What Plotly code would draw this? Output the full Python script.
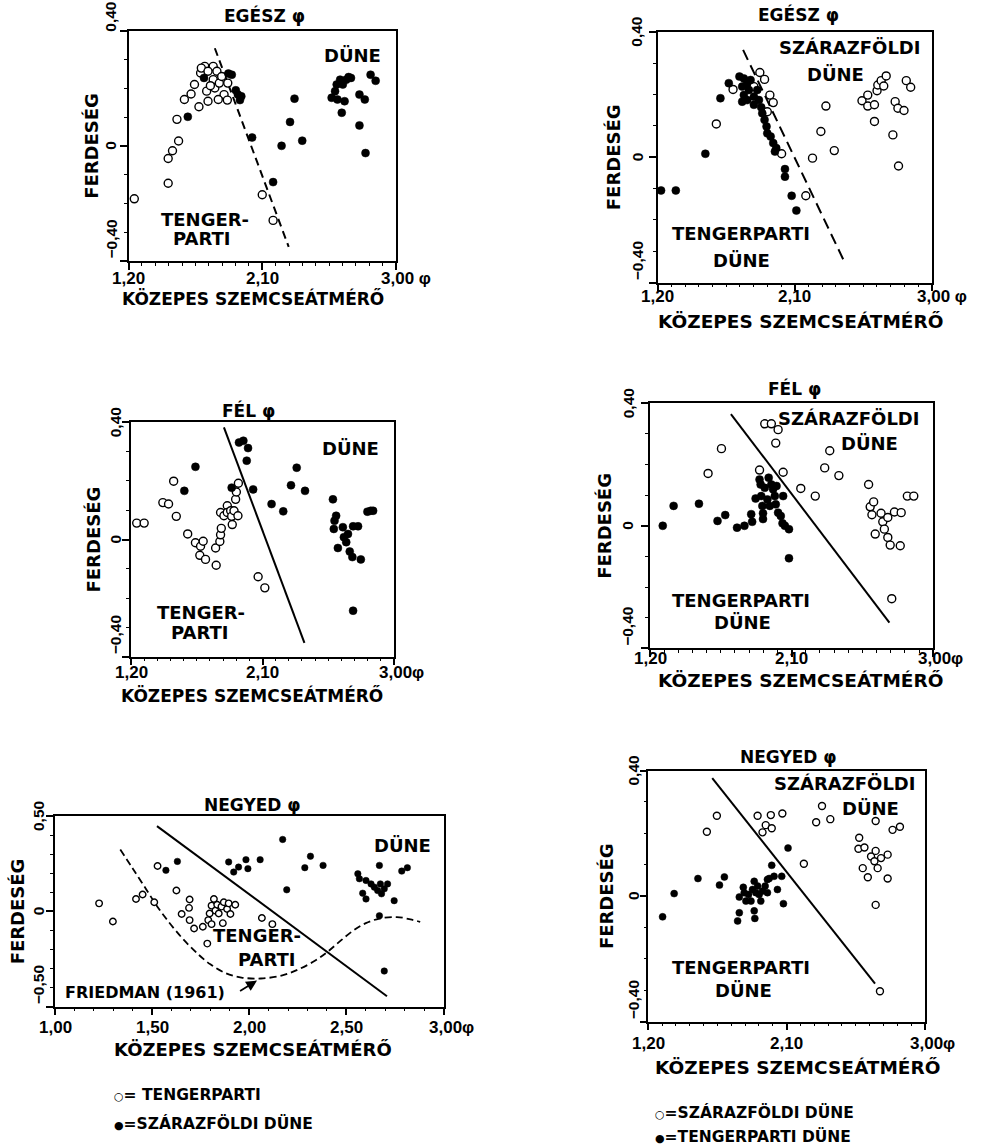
import plotly.graph_objects as go

W, H = 982, 1147
FONT = "DejaVu Sans"
NUMFONT = "Liberation Sans"

# ---------------- DATA ----------------
# Panel 1: EGÉSZ φ (open = tengerparti, filled = dűne)
p1_open_x = [1.239, 1.467, 1.467, 1.496, 1.537, 1.526, 1.576, 1.621, 1.644, 1.674, 1.685, 1.713, 1.726, 1.735,
             1.770, 1.770, 1.781, 1.795, 1.811, 1.827, 1.843, 1.804, 1.865, 1.868, 1.751, 1.690, 1.735, 2.100, 2.173]
p1_open_y = [-0.184, -0.130, -0.044, -0.017, 0.017, 0.092, 0.161, 0.180, 0.213, 0.136, 0.253, 0.276, 0.190, 0.155,
             0.276, 0.230, 0.201, 0.259, 0.218, 0.241, 0.178, 0.161, 0.159, 0.218, 0.209, 0.270, 0.259, -0.170, -0.259]
p1_fill_x = [1.599, 1.708, 1.872, 1.895, 1.922, 1.936, 1.959, 1.950, 2.032, 2.173, 2.230, 2.287, 2.317, 2.369,
             2.567, 2.590, 2.601, 2.624, 2.642, 2.665, 2.681, 2.697, 2.606, 2.654, 2.635, 2.754, 2.790, 2.754,
             2.795, 2.829, 2.863]
p1_fill_y = [0.101, 0.236, 0.251, 0.247, 0.193, 0.178, 0.172, 0.159, 0.029, -0.126, 0.000, 0.083, 0.164, 0.018,
             0.167, 0.190, 0.213, 0.230, 0.213, 0.230, 0.239, 0.236, 0.161, 0.155, 0.115, 0.178, 0.161, 0.071,
             -0.025, 0.247, 0.226]
p1_line_x = [1.781, 2.278]
p1_line_y = [0.339, -0.351]

# Panel 2: EGÉSZ φ (open = szárazföldi dűne, filled = tengerparti dűne)
p2_open_x = [1.585, 1.695, 1.832, 1.871, 1.902, 1.920, 1.937, 1.959, 2.014, 2.173, 2.217, 2.272, 2.305, 2.360,
             2.542, 2.580, 2.580, 2.624, 2.624, 2.641, 2.646, 2.668, 2.685, 2.701, 2.745, 2.760, 2.778, 2.782,
             2.818, 2.833, 2.862]
p2_open_y = [0.106, 0.216, 0.225, 0.270, 0.248, 0.145, 0.198, 0.174, 0.011, -0.123, -0.003, 0.082, 0.163, 0.021,
             0.180, 0.198, 0.163, 0.167, 0.114, 0.212, 0.230, 0.244, 0.227, 0.259, 0.071, 0.177, 0.156, -0.028,
             0.149, 0.244, 0.223]
p2_fill_x = [1.222, 1.319, 1.513, 1.612, 1.667, 1.737, 1.766, 1.788, 1.755, 1.810, 1.799, 1.766, 1.755, 1.788,
             1.832, 1.832, 1.854, 1.865, 1.880, 1.887, 1.902, 1.915, 1.920, 1.942, 1.959, 1.970, 1.979, 2.036,
             2.036, 2.080, 2.111]
p2_fill_y = [-0.106, -0.106, 0.011, 0.188, 0.236, 0.257, 0.251, 0.236, 0.225, 0.246, 0.214, 0.198, 0.177, 0.182,
             0.193, 0.167, 0.214, 0.182, 0.159, 0.140, 0.119, 0.098, 0.076, 0.066, 0.045, 0.018, 0.029, -0.038,
             -0.062, -0.123, -0.170]
p2_line_x = [1.761, 2.430]
p2_line_y = [0.342, -0.337]

# Panel 3: FÉL φ (open = tengerparti, filled = dűne)
p3_open_x = [1.239, 1.290, 1.418, 1.457, 1.492, 1.510, 1.588, 1.641, 1.671, 1.676, 1.694, 1.710, 1.779, 1.783,
             1.808, 1.813, 1.818, 1.813, 1.836, 1.859, 1.859, 1.882, 1.889, 1.893, 1.905, 1.916, 1.921, 1.932,
             1.935, 2.070, 2.116]
p3_open_y = [0.056, 0.056, 0.126, 0.121, 0.199, 0.079, 0.019, -0.011, -0.054, -0.023, -0.006, -0.068, -0.029,
             -0.088, -0.007, 0.016, 0.038, 0.092, 0.081, 0.115, 0.092, 0.098, 0.079, 0.051, 0.098, 0.137, 0.162,
             0.081, 0.192, -0.127, -0.165]
p3_fill_x = [1.641, 1.565, 1.889, 1.939, 1.969, 2.001, 1.992, 2.036, 2.162, 2.242, 2.295, 2.334, 2.391, 2.582,
             2.593, 2.604, 2.588, 2.616, 2.650, 2.657, 2.673, 2.685, 2.697, 2.720, 2.715, 2.754, 2.773, 2.720,
             2.818, 2.841, 2.857]
p3_fill_y = [0.248, 0.166, 0.177, 0.331, 0.337, 0.312, 0.269, 0.171, 0.121, 0.096, 0.185, 0.245, 0.166, 0.137,
             0.064, 0.081, 0.036, -0.029, 0.042, 0.008, -0.009, 0.019, -0.041, 0.045, -0.060, 0.045, -0.068,
             -0.243, 0.095, 0.098, 0.098]
p3_line_x = [1.836, 2.387]
p3_line_y = [0.383, -0.353]

# Panel 4: FÉL φ (open = szárazföldi dűne, filled = tengerparti dűne)
p4_open_x = [1.569, 1.654, 1.896, 1.929, 1.971, 2.014, 1.999, 2.046, 2.158, 2.250, 2.310, 2.342, 2.400, 2.589,
             2.599, 2.621, 2.610, 2.631, 2.668, 2.679, 2.689, 2.711, 2.711, 2.726, 2.753, 2.796, 2.790, 2.835,
             2.876, 2.736]
p4_open_y = [0.171, 0.252, 0.182, 0.333, 0.333, 0.314, 0.270, 0.175, 0.122, 0.097, 0.189, 0.245, 0.164, 0.135,
             0.062, 0.078, 0.036, -0.027, 0.041, 0.013, -0.011, 0.027, -0.038, -0.063, 0.045, 0.043, -0.065,
             0.097, 0.097, -0.238]
p4_fill_x = [1.281, 1.350, 1.511, 1.629, 1.678, 1.753, 1.800, 1.843, 1.849, 1.871, 1.896, 1.903, 1.907, 1.914,
             1.918, 1.918, 1.929, 1.946, 1.954, 1.961, 1.971, 1.982, 1.993, 1.999, 2.004, 2.014, 2.031, 2.046,
             2.042, 2.057, 2.083, 2.083]
p4_fill_y = [0.000, 0.065, 0.072, 0.016, 0.035, -0.006, 0.000, 0.038, 0.013, 0.089, 0.151, 0.135, 0.097, 0.065,
             0.041, 0.022, 0.124, 0.086, 0.157, 0.065, 0.135, 0.119, 0.097, 0.070, 0.130, 0.043, 0.032, 0.097,
             0.008, 0.000, -0.011, -0.106]
p4_line_x = [1.714, 2.721]
p4_line_y = [0.365, -0.316]

# Panel 5: NEGYED φ (open = tengerparti, filled = szárazföldi dűne)
p5_open_x = [1.227, 1.298, 1.417, 1.451, 1.511, 1.528, 1.625, 1.652, 1.693, 1.690, 1.693, 1.716, 1.761, 1.784,
             1.789, 1.796, 1.806, 1.806, 1.818, 1.826, 1.835, 1.843, 1.857, 1.864, 1.869, 1.886, 1.894, 1.903,
             1.928, 2.065, 2.119]
p5_open_y = [0.042, -0.053, 0.065, 0.088, 0.048, 0.238, 0.109, -0.014, 0.062, 0.018, -0.046, -0.090, -0.081,
             -0.169, -0.046, -0.011, -0.067, 0.030, 0.065, 0.004, 0.035, -0.011, 0.025, -0.062, 0.048, 0.012,
             0.042, -0.014, 0.035, -0.035, -0.067]
p5_fill_x = [1.571, 1.630, 1.894, 1.920, 1.945, 1.983, 1.993, 2.056, 2.172, 2.193, 2.286, 2.315, 2.380, 2.559,
             2.567, 2.584, 2.601, 2.601, 2.627, 2.644, 2.661, 2.670, 2.675, 2.681, 2.695, 2.712, 2.670, 2.746,
             2.785, 2.814, 2.695]
p5_fill_y = [0.215, 0.262, 0.259, 0.206, 0.232, 0.271, 0.224, 0.271, 0.377, 0.113, 0.229, 0.289, 0.241, 0.197,
             0.171, 0.095, 0.065, 0.162, 0.144, 0.127, 0.109, 0.241, 0.144, 0.092, 0.118, 0.144, -0.023, 0.056,
             0.211, 0.229, -0.313]
p5_line_x = [1.525, 2.709]
p5_line_y = [0.447, -0.445]
friedman_x = [1.336, 1.400, 1.470, 1.520, 1.570, 1.650, 1.740, 1.800, 1.880, 1.960, 2.060, 2.170, 2.250, 2.340,
              2.400, 2.460, 2.530, 2.600, 2.670, 2.760, 2.830, 2.880]
friedman_y = [0.324, 0.225, 0.115, 0.035, -0.035, -0.135, -0.228, -0.278, -0.325, -0.347, -0.352, -0.336, -0.306,
              -0.258, -0.215, -0.163, -0.105, -0.062, -0.038, -0.030, -0.042, -0.055]

# Panel 6: NEGYED φ (open = szárazföldi dűne, filled = tengerparti dűne)
p6_open_x = [1.581, 1.646, 1.911, 1.964, 1.943, 1.997, 2.003, 2.072, 2.212, 2.292, 2.330, 2.384, 2.572, 2.567,
             2.606, 2.595, 2.628, 2.649, 2.671, 2.679, 2.692, 2.714, 2.757, 2.757, 2.679, 2.679, 2.789, 2.837,
             2.707]
p6_open_y = [0.205, 0.256, 0.256, 0.226, 0.203, 0.258, 0.216, 0.263, 0.103, 0.235, 0.287, 0.245, 0.186, 0.151,
             0.155, 0.089, 0.060, 0.126, 0.111, 0.144, 0.089, 0.121, 0.132, 0.056, -0.028, 0.239, 0.211, 0.221,
             -0.303]
p6_fill_x = [1.293, 1.368, 1.523, 1.663, 1.695, 1.781, 1.792, 1.792, 1.818, 1.824, 1.835, 1.852, 1.868, 1.878,
             1.889, 1.889, 1.893, 1.900, 1.911, 1.921, 1.932, 1.943, 1.960, 1.975, 1.975, 2.003, 1.986, 2.018,
             2.040, 2.068, 2.079, 2.109]
p6_fill_y = [-0.066, 0.008, 0.056, 0.035, 0.061, -0.079, -0.053, -0.003, 0.028, 0.011, -0.016, 0.005, -0.016,
             0.021, 0.047, -0.047, -0.071, 0.011, 0.032, 0.005, -0.016, 0.016, 0.032, 0.011, 0.053, 0.098, 0.056,
             0.063, 0.021, 0.063, -0.024, 0.153]
p6_line_x = [1.616, 2.675]
p6_line_y = [0.376, -0.279]

# Tick labels
x_ticks_a = [1.2, 2.1, 3.0]
x_ticktext_a = ["1,20", "2,10", "3,00 φ"]
x_ticktext_a2 = ["1,20", "2,10", "3,00φ"]
y_ticks_a = [-0.4, 0.0, 0.4]
y_ticktext_a = ["−0,40", "0", "0,40"]
x_ticks_b = [1.0, 1.5, 2.0, 2.5, 3.0]
x_ticktext_b = ["1,00", "1,50", "2,00", "2,50", "3,00φ"]
y_ticks_b = [-0.5, 0.0, 0.5]
y_ticktext_b = ["−0,50", "0", "0,50"]

titles = ["EGÉSZ φ", "EGÉSZ φ", "FÉL φ", "FÉL φ", "NEGYED φ", "NEGYED φ"]
x_title = "KÖZEPES SZEMCSEÁTMÉRŐ"
y_title = "FERDESÉG"

# ---------------- LAYOUT HELPERS ----------------
def px(x):
    return x / W

def py(y):
    return 1 - y / H

panels = [
    dict(ox=p1_open_x, oy=p1_open_y, fx=p1_fill_x, fy=p1_fill_y, lx=p1_line_x, ly=p1_line_y, dash="8px,5px",
         box=(128.5, 396, 30.7, 261), xr=[1.2, 3.0], yr=[-0.4, 0.4], xt=x_ticks_a, xtt=x_ticktext_a,
         yt=y_ticks_a, ytt=y_ticktext_a, xminor=0.09, title_pos=(264, 16), xlab_y=278, xtitle_pos=(253, 298),
         xtitle_size=17, ylab_x=111, ytitle_x=92, top_anchor="bottom", top_shift=-3, msize=8,
         texts=[("DÜNE", 352, 55), ("TENGER-", 205, 220), ("PARTI", 202, 238)]),
    dict(ox=p2_open_x, oy=p2_open_y, fx=p2_fill_x, fy=p2_fill_y, lx=p2_line_x, ly=p2_line_y, dash="11px,6px",
         box=(657.7, 931.7, 31.7, 282.7), xr=[1.2, 3.0], yr=[-0.4, 0.4], xt=x_ticks_a, xtt=x_ticktext_a,
         yt=y_ticks_a, ytt=y_ticktext_a, xminor=0.09, title_pos=(798, 15), xlab_y=296, xtitle_pos=(800, 322),
         xtitle_size=18.5, ylab_x=637, ytitle_x=613, top_anchor="middle", top_shift=0, msize=8,
         texts=[("SZÁRAZFÖLDI", 850, 48), ("DÜNE", 835, 75), ("TENGERPARTI", 741, 233), ("DÜNE", 741, 260)]),
    dict(ox=p3_open_x, oy=p3_open_y, fx=p3_fill_x, fy=p3_fill_y, lx=p3_line_x, ly=p3_line_y, dash="solid",
         box=(131, 394, 422.3, 656.7), xr=[1.2, 3.0], yr=[-0.4, 0.4], xt=x_ticks_a, xtt=x_ticktext_a2,
         yt=y_ticks_a, ytt=y_ticktext_a, xminor=0.09, title_pos=(249, 410), xlab_y=672, xtitle_pos=(252, 695),
         xtitle_size=17, ylab_x=115, ytitle_x=93, top_anchor="middle", top_shift=0, msize=8,
         texts=[("DÜNE", 350, 448), ("TENGER-", 201, 612), ("PARTI", 200, 632)]),
    dict(ox=p4_open_x, oy=p4_open_y, fx=p4_fill_x, fy=p4_fill_y, lx=p4_line_x, ly=p4_line_y, dash="solid",
         box=(650, 933.3, 403.3, 648.3), xr=[1.2, 3.0], yr=[-0.4, 0.4], xt=x_ticks_a, xtt=x_ticktext_a2,
         yt=y_ticks_a, ytt=y_ticktext_a, xminor=0.09, title_pos=(794, 388), xlab_y=658, xtitle_pos=(800, 680),
         xtitle_size=18.5, ylab_x=628, ytitle_x=605, top_anchor="middle", top_shift=0, msize=8,
         texts=[("SZÁRAZFÖLDI", 849, 418), ("DÜNE", 869, 443), ("TENGERPARTI", 741, 600), ("DÜNE", 742, 622)]),
    dict(ox=p5_open_x, oy=p5_open_y, fx=p5_fill_x, fy=p5_fill_y, lx=p5_line_x, ly=p5_line_y, dash="solid",
         box=(55, 443.5, 816, 1006.7), xr=[1.0, 3.0], yr=[-0.5, 0.5], xt=x_ticks_b, xtt=x_ticktext_b,
         yt=y_ticks_b, ytt=y_ticktext_b, xminor=0.1, title_pos=(253, 805), xlab_y=1027, xtitle_pos=(253, 1049),
         xtitle_size=18, ylab_x=38, ytitle_x=17, top_anchor="middle", top_shift=0, msize=6.5,
         texts=[("DÜNE", 402, 845), ("TENGER-", 257, 935), ("PARTI", 267, 960)]),
    dict(ox=p6_open_x, oy=p6_open_y, fx=p6_fill_x, fy=p6_fill_y, lx=p6_line_x, ly=p6_line_y, dash="solid",
         box=(648.3, 925, 770.5, 1021.7), xr=[1.2, 3.0], yr=[-0.4, 0.4], xt=x_ticks_a, xtt=x_ticktext_a2,
         yt=y_ticks_a, ytt=y_ticktext_a, xminor=0.09, title_pos=(788, 757), xlab_y=1043, xtitle_pos=(797, 1067),
         xtitle_size=18.5, ylab_x=633, ytitle_x=606, top_anchor="middle", top_shift=0, msize=7,
         texts=[("SZÁRAZFÖLDI", 845, 783), ("DÜNE", 870, 808), ("TENGERPARTI", 741, 967), ("DÜNE", 743, 990)]),
]

fig = go.Figure()
annotations = []
layout = dict(
    width=W, height=H, margin=dict(l=0, r=0, t=0, b=0),
    paper_bgcolor="white", plot_bgcolor="white", showlegend=False,
    font=dict(family=FONT, color="black"),
)


def bold(size, family=FONT):
    return dict(family=family, size=size, color="black", weight="bold")


for i, p in enumerate(panels, start=1):
    xa = "x" if i == 1 else f"x{i}"
    ya = "y" if i == 1 else f"y{i}"
    x0, x1, y0, y1 = p["box"]
    msize = p["msize"]
    fig.add_trace(go.Scatter(x=p["lx"], y=p["ly"], mode="lines", xaxis=xa, yaxis=ya,
                             line=dict(color="black", width=2, dash=p["dash"]), hoverinfo="skip"))
    if i == 5:
        fig.add_trace(go.Scatter(x=friedman_x, y=friedman_y, mode="lines", xaxis=xa, yaxis=ya,
                                 line=dict(color="black", width=1.8, dash="7px,4px", shape="spline",
                                           smoothing=1.0),
                                 hoverinfo="skip"))
    fig.add_trace(go.Scatter(x=p["ox"], y=p["oy"], mode="markers", xaxis=xa, yaxis=ya,
                             marker=dict(symbol="circle", size=msize, color="white",
                                         line=dict(color="black", width=1.4))))
    fig.add_trace(go.Scatter(x=p["fx"], y=p["fy"], mode="markers", xaxis=xa, yaxis=ya,
                             marker=dict(symbol="circle", size=msize, color="black",
                                         line=dict(color="black", width=0.5))))

    axis_common = dict(showgrid=False, zeroline=False, showline=True, mirror=True, linecolor="black",
                       linewidth=1.5, ticks="outside", ticklen=7, tickwidth=1.5, tickcolor="black",
                       showticklabels=False)
    layout["xaxis" if i == 1 else f"xaxis{i}"] = dict(
        axis_common, domain=[px(x0), px(x1)], range=p["xr"], anchor=ya, tickvals=p["xt"],
        minor=dict(ticks="outside", ticklen=3, tickwidth=1, tickcolor="black", tick0=p["xr"][0],
                   dtick=p["xminor"], showgrid=False))
    layout["yaxis" if i == 1 else f"yaxis{i}"] = dict(
        axis_common, domain=[py(y1), py(y0)], range=p["yr"], anchor=xa, tickvals=p["yt"],
        minor=dict(ticks="outside", ticklen=3, tickwidth=1, tickcolor="black", tick0=0, dtick=0.1,
                   showgrid=False))

    annotations.append(dict(text=titles[i - 1], x=px(p["title_pos"][0]), y=py(p["title_pos"][1]),
                            xref="paper", yref="paper", showarrow=False, font=bold(17),
                            xanchor="center", yanchor="middle"))
    annotations.append(dict(text=x_title, x=px(p["xtitle_pos"][0]), y=py(p["xtitle_pos"][1]),
                            xref="paper", yref="paper", showarrow=False, font=bold(p["xtitle_size"]),
                            xanchor="center", yanchor="middle"))
    annotations.append(dict(text=y_title, x=px(p["ytitle_x"]), y=py((y0 + y1) / 2),
                            xref="paper", yref="paper", showarrow=False, font=bold(18), textangle=-90,
                            xanchor="center", yanchor="middle"))
    for v, t in zip(p["xt"], p["xtt"]):
        last = "φ" in t
        annotations.append(dict(text=t, x=v, y=py(p["xlab_y"]), xref=xa, yref="paper", showarrow=False,
                                font=bold(17, NUMFONT), xanchor="left" if last else "center",
                                yanchor="middle", xshift=-17 if last else 0))
    for v, t in zip(p["yt"], p["ytt"]):
        shift = 0
        if v > 0:
            ya_anchor = p["top_anchor"]
            shift = p["top_shift"]
        elif v < 0:
            ya_anchor = "bottom"
        else:
            ya_anchor = "middle"
        annotations.append(dict(text=t, x=px(p["ylab_x"]), y=v, xref="paper", yref=ya, showarrow=False,
                                font=bold(15.5, NUMFONT), textangle=-90, xanchor="center",
                                yanchor=ya_anchor, yshift=shift))
    for t, tx, ty in p["texts"]:
        annotations.append(dict(text=t, x=px(tx), y=py(ty), xref="paper", yref="paper", showarrow=False,
                                font=bold(18), xanchor="center", yanchor="middle"))

annotations.append(dict(text="FRIEDMAN (1961)", x=px(63), y=py(992), xref="paper", yref="paper",
                        showarrow=False, font=bold(16), xanchor="left", yanchor="middle"))
annotations.append(dict(text="", x=2.04, y=-0.363, xref="x5", yref="y5", ax=1.945, ay=-0.423,
                        axref="x5", ayref="y5", showarrow=True, arrowhead=2, arrowsize=1.2, arrowwidth=1.8,
                        arrowcolor="black"))

small_open = '<span style="font-size:11px">○</span>'
small_fill = '<span style="font-size:11px">●</span>'
annotations.append(dict(text=small_open + "= TENGERPARTI", x=px(112), y=py(1095), xref="paper", yref="paper",
                        showarrow=False, font=bold(15.5), xanchor="left", yanchor="middle"))
annotations.append(dict(text=small_fill + "=SZÁRAZFÖLDI DÜNE", x=px(112), y=py(1123), xref="paper",
                        yref="paper", showarrow=False, font=bold(15.5), xanchor="left", yanchor="middle"))
annotations.append(dict(text=small_open + "=SZÁRAZFÖLDI DÜNE", x=px(653), y=py(1112), xref="paper",
                        yref="paper", showarrow=False, font=bold(15.5), xanchor="left", yanchor="middle"))
annotations.append(dict(text=small_fill + "=TENGERPARTI DÜNE", x=px(653), y=py(1136), xref="paper",
                        yref="paper", showarrow=False, font=bold(15.5), xanchor="left", yanchor="middle"))

layout["annotations"] = annotations
fig.update_layout(**layout)
fig.write_html("out.html", config={"displayModeBar": False},
               post_script="document.body.style.margin='0px';")
